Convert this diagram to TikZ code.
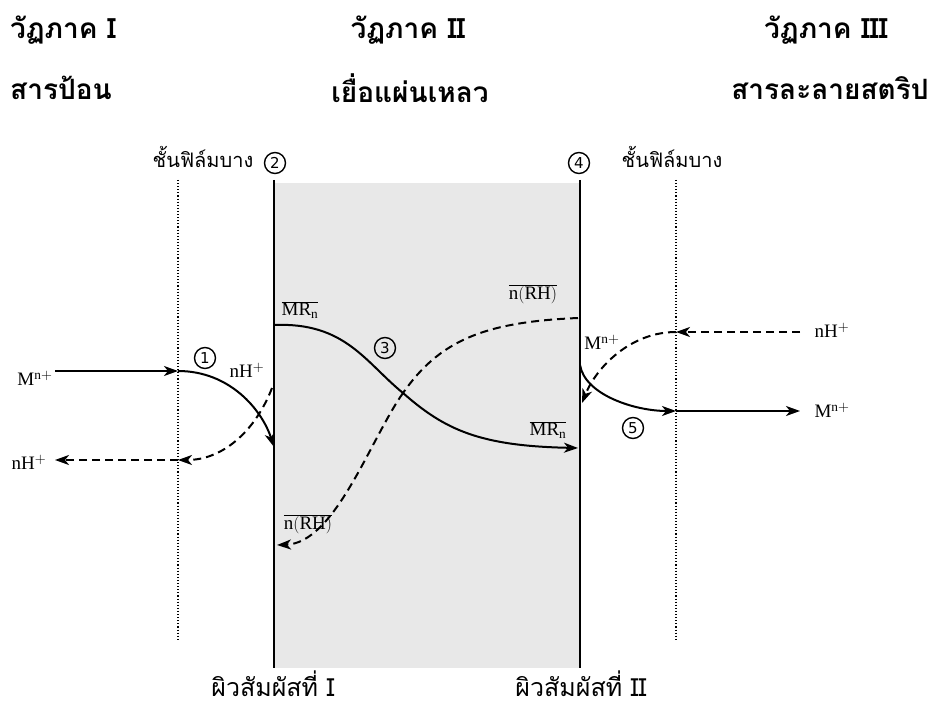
\documentclass[tikz,border=0pt]{standalone}
\usepackage{fontspec}
\setmainfont{Liberation Serif}
\newfontfamily\thaifont[Script=Thai]{Loma}
\newfontfamily\thaisans[Script=Thai]{Loma}
\newfontfamily\labsans{DejaVu Sans}
\usetikzlibrary{arrows.meta}
\begin{document}
\begin{tikzpicture}[x=1pt,y=-1pt,
  hdr/.style={font=\thaifont\bfseries\fontsize{28}{30}\selectfont, inner sep=0pt},
  sub/.style={font=\thaisans\fontsize{20}{22}\selectfont, inner sep=0pt},
  botlab/.style={font=\thaisans\fontsize{25}{27}\selectfont, inner sep=0pt},
  chem/.style={font=\fontsize{19}{21}\selectfont, inner sep=0pt},
  num/.style={draw, circle, line width=1.4pt, minimum size=21pt, inner sep=0pt, font=\labsans\fontsize{15}{15}\selectfont},
  wall/.style={line width=2.4pt},
  film/.style={dotted, line width=1.1pt},
  flow/.style={line width=2pt, -{Stealth[length=14pt,width=10pt,inset=4pt]}},
  dflow/.style={line width=2pt, dash pattern=on 8pt off 5pt, -{Stealth[length=14pt,width=10pt,inset=4pt]}}
]
\useasboundingbox (0,0) rectangle (938,706);
% membrane
\fill[black!9] (274,183) rectangle (580,668);
\draw[wall] (274,180) coordinate (w1t) -- (274,668) coordinate (w1b);
\draw[wall] (580,180) coordinate (w2t) -- (580,668) coordinate (w2b);
% thin films
\draw[film] (178,180) coordinate (f1t) -- (178,640) coordinate (f1b);
\draw[film] (676,180) coordinate (f2t) -- (676,640) coordinate (f2b);
% headers
\node[hdr, anchor=west] (h1) at (10,30) {วัฏภาค I};
\node[hdr, anchor=west] (h1b) at (10,88) {สารป้อน};
\node[hdr] (h2) at (408,30) {วัฏภาค II};
\node[hdr] (h2b) at (410,88) {เยื่อแผ่นเหลว};
\node[hdr] (h3) at (826,30) {วัฏภาค III};
\node[hdr] (h3b) at (830,88) {สารละลายสตริป};
\node[sub] (film1) at (203,157) {ชั้นฟิล์มบาง};
\node[sub] (film2) at (672,157) {ชั้นฟิล์มบาง};
\node[botlab] (s1) at (273,684) {ผิวสัมผัสที่ I};
\node[botlab] (s2) at (581,684) {ผิวสัมผัสที่ II};
% circled numbers
\node[num] (n1) at (205,358) {1};
\node[num] (n2) at (275,163) {2};
\node[num] (n3) at (385,348) {3};
\node[num] (n4) at (579,163) {4};
\node[num] (n5) at (633,428) {5};
% chemical labels
\node[chem] (Mleft) at (35,378) {M$^{\mathrm{n+}}$};
\node[chem] (Hleft) at (29,462) {nH$^{+}$};
\node[chem] (Hmid) at (247,370) {nH$^{+}$};
\node[chem] (MRl) at (300,310) {$\overline{\mathrm{MR_n}}$};
\node[chem] (RHl) at (308,524) {$\overline{\mathrm{n(RH)}}$};
\node[chem] (RHr) at (533,294) {$\overline{\mathrm{n(RH)}}$};
\node[chem] (MRr) at (548,430) {$\overline{\mathrm{MR_n}}$};
\node[chem] (Mmid) at (602,342) {M$^{\mathrm{n+}}$};
\node[chem] (Hright) at (832,330) {nH$^{+}$};
\node[chem] (Mright) at (832,410) {M$^{\mathrm{n+}}$};
% connector end points
\coordinate (a0) at (55,371);
\coordinate (a1) at (178,371);
\coordinate (a2) at (274,447);
\coordinate (b0) at (272,388);
\coordinate (b1) at (178,460);
\coordinate (b2) at (55,460);
\coordinate (c0) at (274,325);
\coordinate (cx) at (403,393);
\coordinate (c1) at (578,448);
\coordinate (d0) at (578,318);
\coordinate (d1) at (277,545);
\coordinate (e0) at (580,365);
\coordinate (e1) at (676,411);
\coordinate (e2) at (800,411);
\coordinate (g0) at (800,332);
\coordinate (g1) at (676,332);
\coordinate (g2) at (582,403);
% left side
\draw[flow] (a0) -- (a1);
\draw[flow] (a1) .. controls (230,371) and (262,410) .. (a2);
\draw[dflow] (b0) .. controls (255,432) and (222,460) .. (b1);
\draw[dflow] (b1) -- (b2);
% membrane
\draw[flow] (c0) .. controls (345,322) and (365,362) .. (cx) .. controls (445,430) and (480,446) .. (c1);
\draw[line width=2pt, dash pattern=on 8pt off 5pt] (d0) .. controls (485,322) and (440,340) .. (cx);
\draw[dflow] (cx) .. controls (370,440) and (335,543) .. (d1);
% right side
\draw[flow] (e0) .. controls (585,395) and (635,411) .. (e1);
\draw[flow] (e1) -- (e2);
\draw[dflow] (g0) -- (g1);
\draw[dflow] (g1) .. controls (630,332) and (596,368) .. (g2);
\end{tikzpicture}
\end{document}
